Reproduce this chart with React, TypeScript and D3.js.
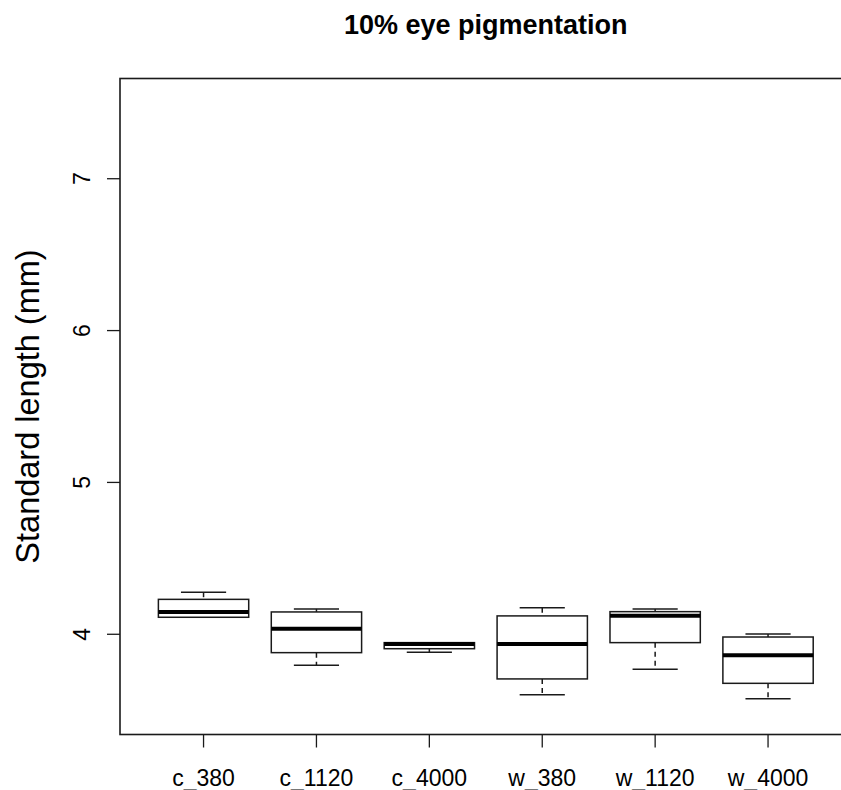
import React from "react";
import * as d3 from "d3";

// Groups and their five-number summaries (standard length, mm)
const groups = ["c_380", "c_1120", "c_4000", "w_380", "w_1120", "w_4000"];
const lowerWhisker = [4.112, 3.796, 3.881, 3.602, 3.77, 3.576];
const lowerQuartile = [4.112, 3.879, 3.905, 3.706, 3.945, 3.677];
const medians = [4.147, 4.037, 3.936, 3.936, 4.122, 3.862];
const upperQuartile = [4.23, 4.147, 3.945, 4.121, 4.149, 3.982];
const upperWhisker = [4.277, 4.167, 3.945, 4.175, 4.167, 4.002];
const yTicks = [4, 5, 6, 7];

const title = "10% eye pigmentation";
const yTitle = "Standard length (mm)";

const W = 841;
const H = 790;
const FONT = "'Liberation Sans', Arial, sans-serif";

export default function App() {
  const left = 120;
  const top = 78.5;
  const bottom = 734.5;
  const unit = 112.9;
  const n = groups.length;
  // R-style 4% extension of the [0.5, n + 0.5] range
  const x = d3
    .scaleLinear()
    .domain([0.26, n + 0.74])
    .range([left, left + (n + 0.48) * unit]);
  const y = d3.scaleLinear().domain([3.34, 7.66]).range([bottom, top]);
  const right = x.range()[1];

  const half = (0.8 * unit) / 2;
  const cap = half / 2;
  const stroke = "#1a1a1a";

  return (
    <svg
      width={W}
      height={H}
      style={{ position: "absolute", left: 0, top: 0, background: "#fff" }}
      fontFamily={FONT}
    >
      <rect x={0} y={0} width={W} height={H} fill="#fff" />
      <text
        x={(left + right) / 2}
        y={34}
        textAnchor="middle"
        fontSize={27}
        fontWeight="bold"
        fill="#000"
      >
        {title}
      </text>

      {groups.map((g, i) => {
        const cx = x(i + 1);
        return (
          <g key={g}>
            {/* whiskers */}
            <line
              x1={cx}
              x2={cx}
              y1={y(upperWhisker[i])}
              y2={y(upperQuartile[i])}
              stroke={stroke}
              strokeWidth={1.5}
              strokeDasharray="5 4"
            />
            <line
              x1={cx}
              x2={cx}
              y1={y(lowerQuartile[i])}
              y2={y(lowerWhisker[i])}
              stroke={stroke}
              strokeWidth={1.5}
              strokeDasharray="5 4"
            />
            <line
              x1={cx - cap}
              x2={cx + cap}
              y1={y(upperWhisker[i])}
              y2={y(upperWhisker[i])}
              stroke={stroke}
              strokeWidth={1.5}
            />
            <line
              x1={cx - cap}
              x2={cx + cap}
              y1={y(lowerWhisker[i])}
              y2={y(lowerWhisker[i])}
              stroke={stroke}
              strokeWidth={1.5}
            />
            {/* box */}
            <rect
              x={cx - half}
              y={y(upperQuartile[i])}
              width={half * 2}
              height={y(lowerQuartile[i]) - y(upperQuartile[i])}
              fill="#fff"
              stroke={stroke}
              strokeWidth={1.5}
            />
            {/* median */}
            <line
              x1={cx - half}
              x2={cx + half}
              y1={y(medians[i])}
              y2={y(medians[i])}
              stroke="#000"
              strokeWidth={4}
            />
            {/* x tick and label */}
            <line x1={cx} x2={cx} y1={bottom} y2={bottom + 13} stroke={stroke} strokeWidth={1.3} />
            <text x={cx} y={786} textAnchor="middle" fontSize={23} fill="#000">
              {g}
            </text>
          </g>
        );
      })}

      {yTicks.map((t) => (
        <g key={t}>
          <line x1={left - 13} x2={left} y1={y(t)} y2={y(t)} stroke={stroke} strokeWidth={1.3} />
          <text
            transform={`translate(${90},${y(t)}) rotate(-90)`}
            textAnchor="middle"
            fontSize={23}
            fill="#000"
          >
            {t}
          </text>
        </g>
      ))}

      <text
        transform={`translate(${38.5},${(top + bottom) / 2}) rotate(-90)`}
        textAnchor="middle"
        fontSize={32.5}
        fill="#000"
      >
        {yTitle}
      </text>

      {/* plot frame */}
      <rect
        x={left}
        y={top}
        width={right - left}
        height={bottom - top}
        fill="none"
        stroke={stroke}
        strokeWidth={1.6}
      />
    </svg>
  );
}
